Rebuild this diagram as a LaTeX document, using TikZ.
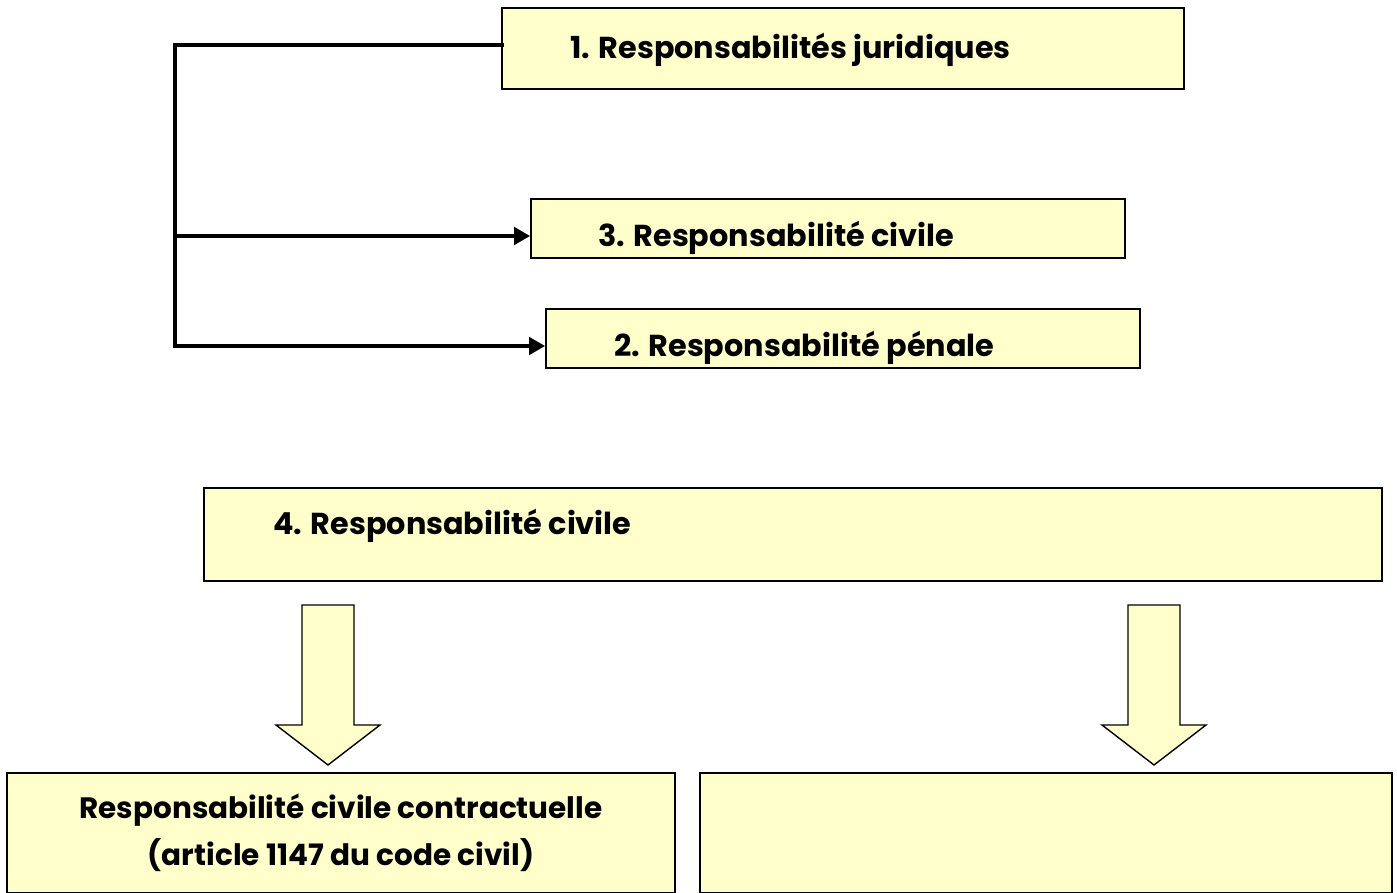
\documentclass[tikz,border=0pt]{standalone}
\usepackage{fontspec}
\setmainfont{Poppins}
\usetikzlibrary{arrows.meta}
\definecolor{boxfill}{HTML}{FFFFCC}
\tikzset{
  box/.style={draw=black, line width=1.6pt, fill=boxfill, rectangle, inner sep=0pt},
  lbl/.style={font=\bfseries\fontsize{30.3}{36}\selectfont, inner sep=0pt, anchor=west},
  clbl/.style={font=\bfseries\fontsize{29.5}{47}\selectfont, inner sep=0pt, align=center},
  conn/.style={line width=4.6pt, draw=black},
  arr/.style={conn, -{Triangle[length=16pt,width=17pt]}},
  blockarrow/.style={draw=black, line width=1.4pt, fill=boxfill, line join=miter}
}
\begin{document}
\begin{tikzpicture}[x=1pt,y=-1pt]
\useasboundingbox (0,0) rectangle (1397,893);
% boxes
\node[box, minimum width=682pt, minimum height=81pt] (b1) at (843,48.5) {};
\node[box, minimum width=594pt, minimum height=59pt] (b3) at (828,228.5) {};
\node[box, minimum width=594pt, minimum height=59pt] (b2) at (843,338.5) {};
\node[box, minimum width=1178pt, minimum height=93pt] (b4) at (793,534.5) {};
\node[box, minimum width=668pt, minimum height=120pt] (b5) at (341,833) {};
\node[box, minimum width=692pt, minimum height=120pt] (b6) at (1046,833) {};
% labels
\node[lbl] (t1) at (570,50) {1. Responsabilités juridiques};
\node[lbl] (t3) at (598,238) {3. Responsabilité civile};
\node[lbl] (t2) at (614,348) {2. Responsabilité pénale};
\node[lbl] (t4) at (273,526) {4. Responsabilité civile};
\node[clbl] (t5) at (341,833) {Responsabilité civile contractuelle\\(article 1147 du code civil)};
% connectors
\coordinate (spine) at (175,45);
\coordinate (e1) at ([yshift=3.5pt]b1.west);
\coordinate (e3) at ([yshift=-7.5pt]b3.west);
\coordinate (e2) at ([yshift=-7.5pt]b2.west);
\draw[conn, line cap=rect] (e1) -- (e1 -| spine) -- (spine |- e2);
\draw[arr] (e3 -| spine) -- (e3);
\draw[arr] (e2 -| spine) -- (e2);
% block arrows
\draw[blockarrow] (302,605) -- (354,605) -- (354,725) -- (380,725) -- (328,765) -- (276,725) -- (302,725) -- cycle;
\draw[blockarrow] (1128,605) -- (1180,605) -- (1180,725) -- (1206,725) -- (1154,765) -- (1102,725) -- (1128,725) -- cycle;
\end{tikzpicture}
\end{document}
